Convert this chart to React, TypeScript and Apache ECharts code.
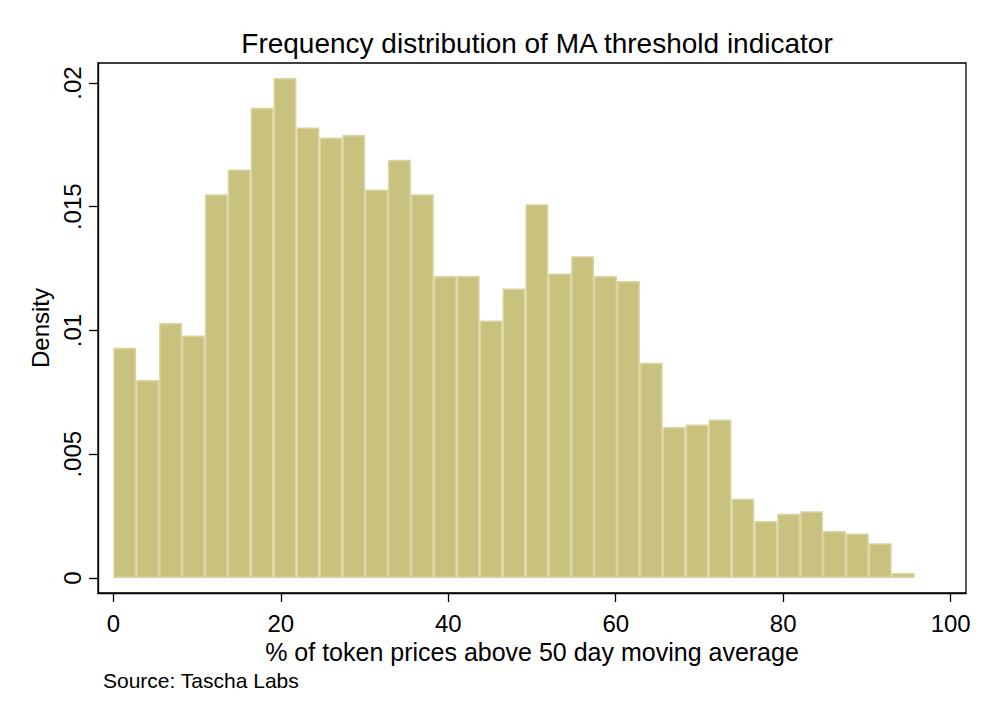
import React, { useEffect, useRef } from "react";
import * as echarts from "echarts";

const titleText = "Frequency distribution of MA threshold indicator";
const xAxisTitle = "% of token prices above 50 day moving average";
const yAxisTitle = "Density";
const sourceNote = "Source: Tascha Labs";

// histogram bins: 35 bins starting at 0
const binStart = 0;
const binWidth = 2.734;
const densities = [
  0.0093, 0.0080, 0.0103, 0.0098, 0.0155, 0.0165, 0.0190, 0.0202, 0.0182,
  0.0178, 0.0179, 0.0157, 0.0169, 0.0155, 0.0122, 0.0122, 0.0104, 0.0117,
  0.0151, 0.0123, 0.0130, 0.0122, 0.0120, 0.0087, 0.0061, 0.0062, 0.0064,
  0.0032, 0.0023, 0.0026, 0.0027, 0.0019, 0.0018, 0.0014, 0.0002,
];

const xTickValues = [0, 20, 40, 60, 80, 100];
const xTickLabels = ["0", "20", "40", "60", "80", "100"];
const yTickValues = [0, 0.005, 0.01, 0.015, 0.02];
const yTickLabels = ["0", ".005", ".01", ".015", ".02"];

const FONT = "'Liberation Sans', Arial, Helvetica, sans-serif";

export default function App() {
  const ref = useRef<HTMLDivElement>(null);

  useEffect(() => {
    if (!ref.current) return;
    const chart = echarts.init(ref.current, null, { renderer: "svg" });

    const data = densities.map((d, i) => [
      binStart + i * binWidth,
      binStart + (i + 1) * binWidth,
      d,
    ]);

    const findLabel = (vals: number[], labels: string[], v: number) => {
      const i = vals.findIndex((t) => Math.abs(t - v) < 1e-9);
      return i >= 0 ? labels[i] : "";
    };

    chart.setOption({
      animation: false,
      backgroundColor: "#ffffff",
      textStyle: { fontFamily: FONT },
      title: {
        text: titleText,
        left: 532,
        top: 24,
        textAlign: "center",
        textStyle: {
          fontFamily: FONT,
          fontSize: 28,
          fontWeight: "normal",
          color: "#000",
        },
      },
      grid: {
        left: 98,
        top: 63,
        right: 27,
        bottom: 129,
        show: true,
        borderColor: "#000",
        borderWidth: 1.3,
        backgroundColor: "transparent",
      },
      xAxis: {
        type: "value",
        min: -1.83,
        max: 101.83,
        name: xAxisTitle,
        nameLocation: "middle",
        nameGap: 42,
        nameTextStyle: { fontFamily: FONT, fontSize: 25, color: "#000" },
        axisLine: {
          show: true,
          onZero: false,
          lineStyle: { color: "#000", width: 1.3 },
        },
        axisTick: {
          show: true,
          length: 9,
          customValues: xTickValues,
          lineStyle: { color: "#000", width: 1.3 },
        },
        axisLabel: {
          customValues: xTickValues,
          margin: 18,
          fontFamily: FONT,
          fontSize: 24,
          color: "#000",
          formatter: (v: number) => findLabel(xTickValues, xTickLabels, v),
        },
        splitLine: { show: false },
      },
      yAxis: {
        type: "value",
        min: -0.000606,
        max: 0.020808,
        name: yAxisTitle,
        nameLocation: "middle",
        nameRotate: 90,
        nameGap: 43,
        nameTextStyle: { fontFamily: FONT, fontSize: 24, color: "#000" },
        axisLine: {
          show: true,
          onZero: false,
          lineStyle: { color: "#000", width: 1.3 },
        },
        axisTick: {
          show: true,
          length: 9,
          customValues: yTickValues,
          lineStyle: { color: "#000", width: 1.3 },
        },
        axisLabel: {
          customValues: yTickValues,
          rotate: 90,
          margin: 14,
          fontFamily: FONT,
          fontSize: 24,
          color: "#000",
          formatter: (v: number) => findLabel(yTickValues, yTickLabels, v),
        },
        splitLine: { show: false },
      },
      graphic: [
        {
          type: "text",
          left: 103,
          top: 670,
          style: {
            text: sourceNote,
            fontFamily: FONT,
            fontSize: 21,
            fill: "#000",
          },
        },
      ],
      series: [
        {
          type: "custom",
          data,
          encode: { x: [0, 1], y: 2 },
          renderItem: (params: any, api: any) => {
            const x0 = api.value(0);
            const x1 = api.value(1);
            const y = api.value(2);
            const p0 = api.coord([x0, y]);
            const p1 = api.coord([x1, 0]);
            return {
              type: "rect",
              shape: {
                x: p0[0] + 0.75,
                y: p0[1] + 0.75,
                width: p1[0] - p0[0] - 1.5,
                height: Math.max(p1[1] - p0[1] - 1.5, 0.5),
              },
              style: {
                fill: "#C9C27E",
                stroke: "#DAD4A2",
                lineWidth: 1.5,
              },
            };
          },
        },
      ],
    });

    return () => {
      chart.dispose();
    };
  }, []);

  return (
    <div
      ref={ref}
      style={{ position: "fixed", left: 0, top: 0, width: 993, height: 722 }}
    />
  );
}
